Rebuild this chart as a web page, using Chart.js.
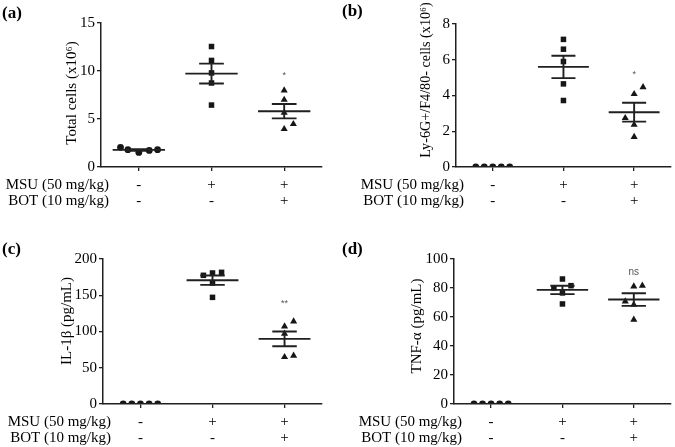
<!DOCTYPE html>
<html>
<head>
<meta charset="utf-8">
<script src="https://cdn.jsdelivr.net/npm/chart.js@4.4.1/dist/chart.umd.min.js"></script>
<style>
  body { margin: 0; background: #fff; }
  .panel { position: absolute; }
</style>
</head>
<body>
<canvas class="panel" id="chartA" width="337" height="215" style="left:0;top:0"></canvas>
<canvas class="panel" id="chartB" width="338" height="215" style="left:337px;top:0"></canvas>
<canvas class="panel" id="chartC" width="337" height="232" style="left:0;top:215px"></canvas>
<canvas class="panel" id="chartD" width="338" height="232" style="left:337px;top:215px"></canvas>
<script>
// groups: control, MSU, MSU + BOT
var groupLabels = [['-', '-'], ['+', '-'], ['+', '+']];
var rowLabels = ['MSU (50 mg/kg)', 'BOT (10 mg/kg)'];

// (a) total cells (x10^6)
var totalControl = [2.05, 1.8, 1.52, 1.73, 1.8];
var totalMsu = [12.55, 11.1, 9.8, 8.75, 6.45];
var totalBot = [7.98, 7.0, 5.65, 3.96, 4.48];
var totalTicks = [0, 5, 10, 15];

// (b) Ly-6G+/F4/80- cells (x10^6)
var lyControl = [0, 0, 0, 0, 0];
var lyMsu = [7.14, 6.59, 5.9, 4.65, 3.72];
var lyBot = [4.47, 4.08, 2.74, 2.36, 1.68];
var lyTicks = [0, 2, 4, 6, 8];

// (c) IL-1b (pg/mL)
var il1bControl = [0, 0, 0, 0, 0];
var il1bMsu = [177.5, 180.7, 181.6, 166.9, 147.1];
var il1bBot = [113.9, 107, 97, 64.8, 66.6];
var il1bTicks = [0, 50, 100, 150, 200];

// (d) TNF-a (pg/mL)
var tnfControl = [0, 0, 0, 0, 0];
var tnfMsu = [86.2, 80, 81.6, 76.6, 69];
var tnfBot = [81.1, 81.6, 70.8, 68.5, 58.2];
var tnfTicks = [0, 20, 40, 60, 80, 100];

// significance marks over the MSU + BOT group
var sigText = ['*', '*', '**', 'ns'];
var sigValue = [9.5, 5.2, 138, 91];

var serif = '"Liberation Serif", "Times New Roman", serif';
var ink = '#161616';

function mean(a) {
    return a.reduce(function (s, v) { return s + v; }, 0) / a.length;
}
function sem(a) {
    var m = mean(a);
    var ss = a.reduce(function (s, v) { return s + (v - m) * (v - m); }, 0);
    return Math.sqrt(ss / (a.length - 1)) / Math.sqrt(a.length);
}

// mean line with sem whiskers, breaks done with null points
function summaryData(values, g) {
    var m = mean(values), s = sem(values);
    return [
        {x: g - 0.36, y: m}, {x: g + 0.36, y: m}, {x: g, y: null},
        {x: g - 0.17, y: m + s}, {x: g + 0.17, y: m + s}, {x: g, y: null},
        {x: g - 0.17, y: m - s}, {x: g + 0.17, y: m - s}, {x: g, y: null},
        {x: g, y: m - s}, {x: g, y: m + s}
    ];
}

var panelText = {
    id: 'panelText',
    afterDraw: function (chart) {
        var o = chart.options.plugins.panelText;
        var ctx = chart.ctx;
        var area = chart.chartArea;
        ctx.save();
        ctx.fillStyle = '#000';

        ctx.font = 'bold 17px ' + serif;
        ctx.textAlign = 'left';
        ctx.textBaseline = 'middle';
        ctx.fillText(o.label, o.labelX, o.labelY);

        ctx.font = '15px ' + serif;
        ctx.textAlign = 'right';
        ctx.fillText(rowLabels[0], area.left + 8, area.bottom + 18);
        ctx.fillText(rowLabels[1], area.left + 8, area.bottom + 34);

        ctx.save();
        ctx.font = (o.titleSize || 15) + 'px ' + serif;
        ctx.translate(o.titleX, o.titleY);
        ctx.rotate(-Math.PI / 2);
        ctx.textAlign = 'center';
        ctx.fillText(o.title, 0, 0);
        ctx.restore();

        ctx.fillStyle = '#555';
        ctx.font = (o.sig === 'ns' ? '10px' : '9px') + ' "Liberation Sans", Arial, sans-serif';
        ctx.textAlign = 'center';
        ctx.textBaseline = 'middle';
        ctx.fillText(o.sig, chart.scales.x.getPixelForValue(3), chart.scales.y.getPixelForValue(o.sigY));
        ctx.restore();
    }
};

function makePanel(id, groups, jitter, yTicks, frame, text) {
    var canvas = document.getElementById(id);
    var styles = ['circle', 'rect', 'triangle'];
    var radii = [3.4, 3.9, 4.1];
    var datasets = [];
    groups.forEach(function (values, i) {
        datasets.push({
            type: 'line',
            data: summaryData(values, i + 1),
            borderColor: '#202020',
            borderWidth: 1.9,
            pointRadius: 0,
            spanGaps: false,
            order: 0
        });
    });
    groups.forEach(function (values, i) {
        datasets.push({
            type: 'scatter',
            data: values.map(function (v, k) {
                return {x: i + 1 + jitter[i][k] * 0.12, y: v};
            }),
            pointStyle: styles[i],
            pointRadius: radii[i],
            backgroundColor: ink,
            borderColor: ink,
            borderWidth: 0,
            order: 1
        });
    });

    return new Chart(canvas.getContext('2d'), {
        type: 'scatter',
        data: {datasets: datasets},
        options: {
            responsive: false,
            animation: false,
            devicePixelRatio: 1,
            layout: {
                padding: {left: 0, top: frame.top, right: canvas.width - frame.right, bottom: 0}
            },
            plugins: {
                legend: {display: false},
                tooltip: {enabled: false},
                panelText: text
            },
            scales: {
                x: {
                    type: 'linear',
                    min: 0.48,
                    max: 3.52,
                    afterBuildTicks: function (scale) {
                        scale.ticks = [1, 2, 3].map(function (v) { return {value: v}; });
                    },
                    afterFit: function (scale) {
                        scale.height = canvas.height - frame.bottom;
                    },
                    ticks: {
                        autoSkip: false,
                        maxRotation: 0,
                        padding: 6,
                        color: '#000',
                        font: {family: serif, size: 15, lineHeight: 1.07},
                        callback: function (value) {
                            return groupLabels[Math.round(value) - 1];
                        }
                    },
                    grid: {drawOnChartArea: false, drawTicks: true, tickLength: 4, color: '#202020', lineWidth: 1.3},
                    border: {color: '#202020', width: 1.5}
                },
                y: {
                    min: 0,
                    max: yTicks[yTicks.length - 1],
                    afterBuildTicks: function (scale) {
                        scale.ticks = yTicks.map(function (v) { return {value: v}; });
                    },
                    afterFit: function (scale) {
                        scale.width = frame.left;
                    },
                    ticks: {
                        padding: 2,
                        color: '#000',
                        font: {family: serif, size: 15}
                    },
                    grid: {drawOnChartArea: false, drawTicks: true, tickLength: 4, color: '#202020', lineWidth: 1.3},
                    border: {color: '#202020', width: 1.5}
                }
            }
        },
        plugins: [panelText]
    });
}

var sideJitter = [-2, -1, 0, 1, 2];

makePanel('chartA',
    [totalControl, totalMsu, totalBot],
    [[-2.1, -1.25, 0, 1.2, 2.15], [0, 0, 0, 0, 0], [0, 0, 0, 0, 1.05]],
    totalTicks,
    {left: 101, top: 23, right: 322, bottom: 167},
    {label: '(a)', labelX: 2, labelY: 14, title: 'Total cells (x10\u2076)', titleX: 72, titleY: 93,
     sig: sigText[0], sigY: sigValue[0]});

makePanel('chartB',
    [lyControl, lyMsu, lyBot],
    [sideJitter, [0, 0, 0, 0, 0], [1.05, 0, -1.05, 0, 0]],
    lyTicks,
    {left: 119, top: 24, right: 336, bottom: 167},
    {label: '(b)', labelX: 5, labelY: 12, title: 'Ly-6G+/F4/80- cells (x10\u2076)', titleX: 89, titleY: 80,
     titleSize: 14.2, sig: sigText[1], sigY: sigValue[1]});

makePanel('chartC',
    [il1bControl, il1bMsu, il1bBot],
    [sideJitter, [-1.05, 0, 1.05, 0, 0], [1.05, 0, 0, 0, 1.05]],
    il1bTicks,
    {left: 103, top: 44, right: 322, bottom: 189},
    {label: '(c)', labelX: 2, labelY: 35, title: 'IL-1\u03b2 (pg/mL)', titleX: 67, titleY: 106,
     sig: sigText[2], sigY: sigValue[2]});

makePanel('chartD',
    [tnfControl, tnfMsu, tnfBot],
    [sideJitter, [0, -1, 1, 0, 0], [0, 1, -1, 0, 0]],
    tnfTicks,
    {left: 117, top: 44, right: 334, bottom: 189},
    {label: '(d)', labelX: 5, labelY: 35, title: 'TNF-\u03b1 (pg/mL)', titleX: 80, titleY: 111,
     sig: sigText[3], sigY: sigValue[3]});
</script>
</body>
</html>
